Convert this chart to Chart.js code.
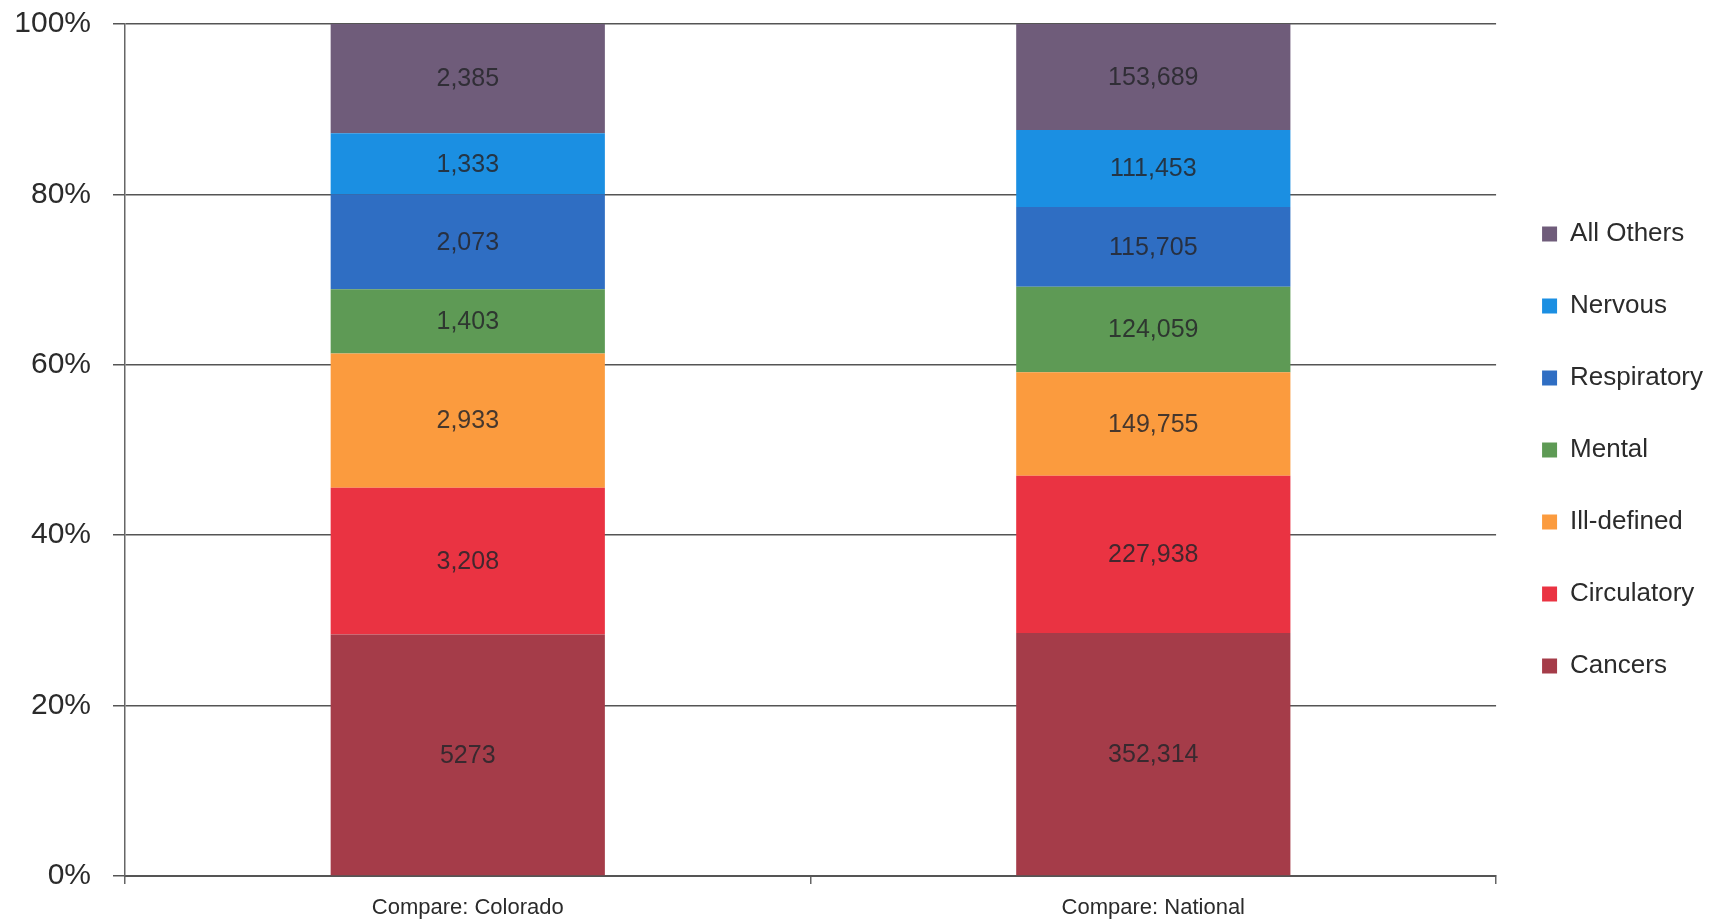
<!DOCTYPE html>
<html lang="en">
<head>
  <meta charset="UTF-8" />
  <title>Causes of Death: Colorado vs National</title>
  <script src="https://cdn.jsdelivr.net/npm/chart.js"></script>
  <style>
    body {
      margin: 0;
      background: #ffffff;
    }
    canvas {
      display: block;
    }
  </style>
</head>
<body>
  <canvas id="grafico" width="1715" height="923"></canvas>

  <script>
    // --- data ---
    const categorias = ["Compare: Colorado", "Compare: National"];
    const causas = ["Cancers", "Circulatory", "Ill-defined", "Mental", "Respiratory", "Nervous", "All Others"];
    const colorado = [5273, 3208, 2933, 1403, 2073, 1333, 2385];
    const national = [352314, 227938, 149755, 124059, 115705, 111453, 153689];
    const yTicks = [0, 20, 40, 60, 80, 100];

    const cores = ["#a53c49", "#ea3342", "#fb9b3e", "#5e9a55", "#2f6ec3", "#1b8fe2", "#6f5c7a"];

    const fonte = '"Liberation Sans", Arial, sans-serif';

    const totalColorado = colorado.reduce((a, b) => a + b, 0);
    const totalNational = national.reduce((a, b) => a + b, 0);

    // each cause becomes one stacked segment, scaled to the bar's total
    const datasets = causas.map((nome, i) => ({
      label: nome,
      counts: [colorado[i], national[i]],
      data: [colorado[i] / totalColorado * 100, national[i] / totalNational * 100],
      backgroundColor: cores[i],
      borderWidth: 0,
      categoryPercentage: 0.8,
      barPercentage: 0.5
    }));

    // the Colorado cancers count is printed without a thousands separator
    function formatCount(v, bar, serie) {
      if (bar === 0 && serie === 0) return String(v);
      return v.toLocaleString("en-US");
    }

    const valueLabels = {
      id: "valueLabels",
      afterDatasetsDraw(chart) {
        const ctx = chart.ctx;
        ctx.save();
        ctx.font = "25px " + fonte;
        ctx.fillStyle = "rgba(38,38,42,0.85)";
        ctx.textAlign = "center";
        ctx.textBaseline = "middle";
        chart.data.datasets.forEach((ds, i) => {
          chart.getDatasetMeta(i).data.forEach((bar, j) => {
            const { x, y, base } = bar.getProps(["x", "y", "base"], true);
            ctx.fillText(formatCount(ds.counts[j], j, i), x, (y + base) / 2 + 1);
          });
        });
        ctx.restore();
      }
    };

    new Chart(document.getElementById("grafico").getContext("2d"), {
      type: "bar",
      data: { labels: categorias, datasets: datasets },
      plugins: [valueLabels],
      options: {
        responsive: false,
        animation: false,
        layout: { padding: { top: 24, right: 2, bottom: 0, left: 0 } },
        plugins: {
          tooltip: { enabled: false },
          legend: {
            position: "right",
            fullSize: false,
            reverse: true,
            labels: {
              boxWidth: 15,
              boxHeight: 15,
              padding: 46,
              color: "#2b2b2b",
              font: { family: fonte, size: 26, lineHeight: 1.02 }
            }
          }
        },
        scales: {
          x: {
            stacked: true,
            afterFit(scale) { scale.height = 47; },
            grid: {
              display: true,
              drawOnChartArea: false,
              drawTicks: true,
              tickLength: 8,
              color: "#666",
              lineWidth: 1.5
            },
            border: { color: "#555", width: 2 },
            ticks: {
              color: "#2b2b2b",
              padding: 11,
              font: { family: fonte, size: 22 }
            }
          },
          y: {
            stacked: true,
            min: 0,
            max: 100,
            afterFit(scale) {
              scale.width = 125;
              scale.paddingTop = 0;
            },
            afterBuildTicks(scale) { scale.ticks = yTicks.map(v => ({ value: v })); },
            grid: {
              color: "#555",
              lineWidth: 1.5,
              tickLength: 12
            },
            border: { color: "#666", width: 1.5 },
            ticks: {
              color: "#2b2b2b",
              padding: 22,
              font: { family: fonte, size: 30 },
              callback: v => v + "%"
            }
          }
        }
      }
    });
  </script>
</body>
</html>
